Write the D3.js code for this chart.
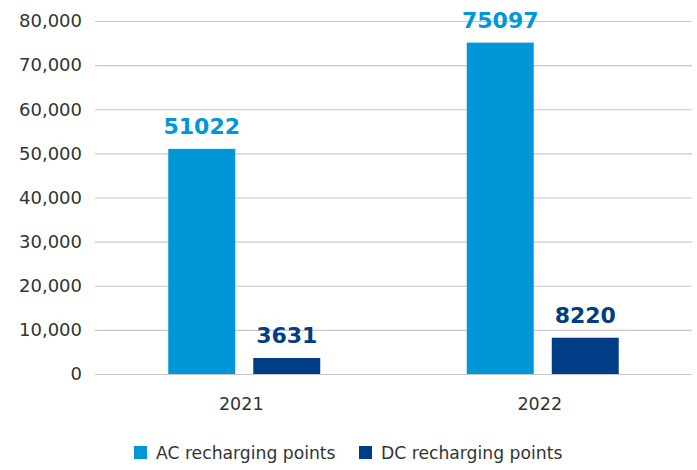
<!DOCTYPE html>
<html>
<head>
<meta charset="utf-8">
<script src="https://cdn.jsdelivr.net/npm/d3@7"></script>
<style>
	body { margin: 0; background: #fff; }
	svg text { font-family: "DejaVu Sans", sans-serif; }
</style>
</head>
<body>
<div id="chart"></div>
<script>
// chart data
var years = ["2021", "2022"]
var seriesNames = ["AC recharging points", "DC recharging points"]
var acPoints = [51022, 75097]
var dcPoints = [3631, 8220]
var yTicks = [0, 10000, 20000, 30000, 40000, 50000, 60000, 70000, 80000]
var colours = ["#0096d8", "#003d87"]

var fullWidth = 697, fullHeight = 470
var margin = {top: 21, right: 5, bottom: 96, left: 95}

var svg = d3.select("#chart")
	.append("svg")
	.attr("width", fullWidth)
	.attr("height", fullHeight)

var yScale = d3.scaleLinear()
	.domain([0, 80000])
	.range([fullHeight - margin.bottom, margin.top])

var xScale = d3.scaleBand()
	.domain(years)
	.range([margin.left, fullWidth - margin.right])

var subScale = d3.scaleBand()
	.domain(seriesNames)
	.range([0, xScale.bandwidth()])
	.paddingInner(0.212)
	.paddingOuter(0.862)

// gridlines + y labels
var yAxis = d3.axisLeft(yScale)
	.tickValues(yTicks)
	.tickFormat(d3.format(","))
	.tickSize(-(fullWidth - margin.left - margin.right))
	.tickPadding(13)

svg.append("g")
	.attr("class", "y axis")
	.attr("transform", "translate(" + margin.left + ",0)")
	.call(yAxis)
	.call(g => g.select(".domain").remove())
	.call(g => g.selectAll("line").attr("stroke", "#c8c8c8").attr("stroke-width", 1.2))
	.call(g => g.selectAll("text").attr("fill", "#333").style("font-size", "18px"))

var xAxis = d3.axisBottom(xScale).tickSize(0).tickPadding(24)

svg.append("g")
	.attr("class", "x axis")
	.attr("transform", "translate(-3," + yScale(0) + ")")
	.call(xAxis)
	.call(g => g.select(".domain").remove())
	.call(g => g.selectAll("text").attr("fill", "#333").style("font-size", "17.5px"))

var rows = years.map((year, i) => ({
	year: year,
	values: [acPoints[i], dcPoints[i]]
}))

var groups = svg.selectAll(".year")
	.data(rows)
	.enter()
	.append("g")
	.attr("class", "year")
	.attr("transform", d => "translate(" + xScale(d.year) + ",0)")

groups.selectAll("rect")
	.data(d => d.values.map((v, j) => ({name: seriesNames[j], value: v, colour: colours[j]})))
	.enter()
	.append("rect")
	.attr("x", d => subScale(d.name))
	.attr("width", subScale.bandwidth())
	.attr("y", d => yScale(d.value))
	.attr("height", d => yScale(0) - yScale(d.value))
	.attr("fill", d => d.colour)

groups.selectAll(".value")
	.data(d => d.values.map((v, j) => ({name: seriesNames[j], value: v, colour: colours[j]})))
	.enter()
	.append("text")
	.attr("class", "value")
	.attr("x", d => subScale(d.name) + subScale.bandwidth() / 2)
	.attr("y", d => yScale(d.value) - 15)
	.attr("text-anchor", "middle")
	.attr("fill", d => d.colour)
	.style("font-size", "22px")
	.style("font-weight", "bold")
	.text(d => d.value)

// legend
var legendX = [134, 359]
var legend = svg.selectAll(".legend")
	.data(seriesNames)
	.enter()
	.append("g")
	.attr("class", "legend")
	.attr("transform", (d, i) => "translate(" + legendX[i] + ",446)")

legend.append("rect")
	.attr("width", 13)
	.attr("height", 13)
	.attr("fill", (d, i) => colours[i])

legend.append("text")
	.attr("x", 22)
	.attr("y", 13)
	.attr("fill", "#333")
	.style("font-size", "17.2px")
	.text(d => d)
</script>
</body>
</html>
